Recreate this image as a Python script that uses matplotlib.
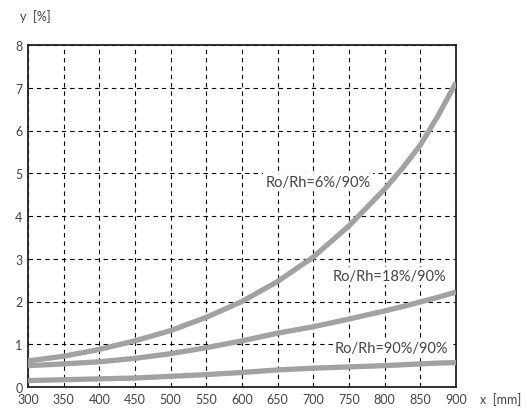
import matplotlib
matplotlib.use('Agg')
import matplotlib.pyplot as plt

# ---- data ----
x_mm = [300, 350, 400, 450, 500, 550, 600, 650, 700, 750, 800, 825, 850, 875, 900]
y_6_90 = [0.61, 0.72, 0.88, 1.08, 1.32, 1.63, 2.0, 2.47, 3.04, 3.77, 4.63, 5.12, 5.66, 6.35, 7.12]
y_18_90 = [0.5, 0.54, 0.59, 0.67, 0.78, 0.92, 1.08, 1.26, 1.41, 1.59, 1.78, 1.88, 1.99, 2.1, 2.22]
y_90_90 = [0.15, 0.17, 0.19, 0.21, 0.25, 0.29, 0.34, 0.4, 0.44, 0.47, 0.5, 0.52, 0.54, 0.56, 0.57]
labels = ["Ro/Rh=6%/90%", "Ro/Rh=18%/90%", "Ro/Rh=90%/90%"]
x_ticks = [300, 350, 400, 450, 500, 550, 600, 650, 700, 750, 800, 850, 900]
y_ticks = [0, 1, 2, 3, 4, 5, 6, 7, 8]

FONT = ['Lato', 'DejaVu Sans']
CURVE = '#a2a2a4'
TXT = '#444444'

fig = plt.figure(figsize=(5.26, 4.10), dpi=100, facecolor='white')
ax = fig.add_axes([28 / 526, 22 / 410, 428 / 526, 342 / 410])

for ys in (y_6_90, y_18_90, y_90_90):
    ax.plot(x_mm, ys, color=CURVE, lw=3.8, solid_capstyle='butt', zorder=3)

ax.set_xlim(300, 900)
ax.set_ylim(0, 8)
ax.set_xticks(x_ticks)
ax.set_yticks(y_ticks)
ax.grid(True, color='black', lw=0.8, ls=(0, (4, 3.5)))
ax.tick_params(length=0, labelsize=9, labelcolor=TXT, pad=4)
for lab in ax.get_xticklabels() + ax.get_yticklabels():
    lab.set_family(FONT)
for s in ax.spines.values():
    s.set_color('#222222')
    s.set_linewidth(1.3)

# ---- curve labels (white box hides the grid behind) ----
box = dict(facecolor='white', edgecolor='none', pad=1.5)
ax.text(633, 4.8, labels[0], fontsize=10.5, color=TXT, family=FONT,
        va='center', ha='left', bbox=box, zorder=4)
ax.text(727, 2.6, labels[1], fontsize=10.5, color=TXT, family=FONT,
        va='center', ha='left', bbox=box, zorder=4)
ax.text(730, 0.92, labels[2], fontsize=10.5, color=TXT, family=FONT,
        va='center', ha='left', bbox=box, zorder=4)

# ---- axis names ----
fig.text(20 / 526, 1 - 17 / 410, "y  [%]", fontsize=9, color=TXT, family=FONT,
         va='center', ha='left')
fig.text(480 / 526, 1 - 400 / 410, "x  [mm]", fontsize=9, color=TXT, family=FONT,
         va='center', ha='left')

fig.savefig('out.png', dpi=100, facecolor='white')
